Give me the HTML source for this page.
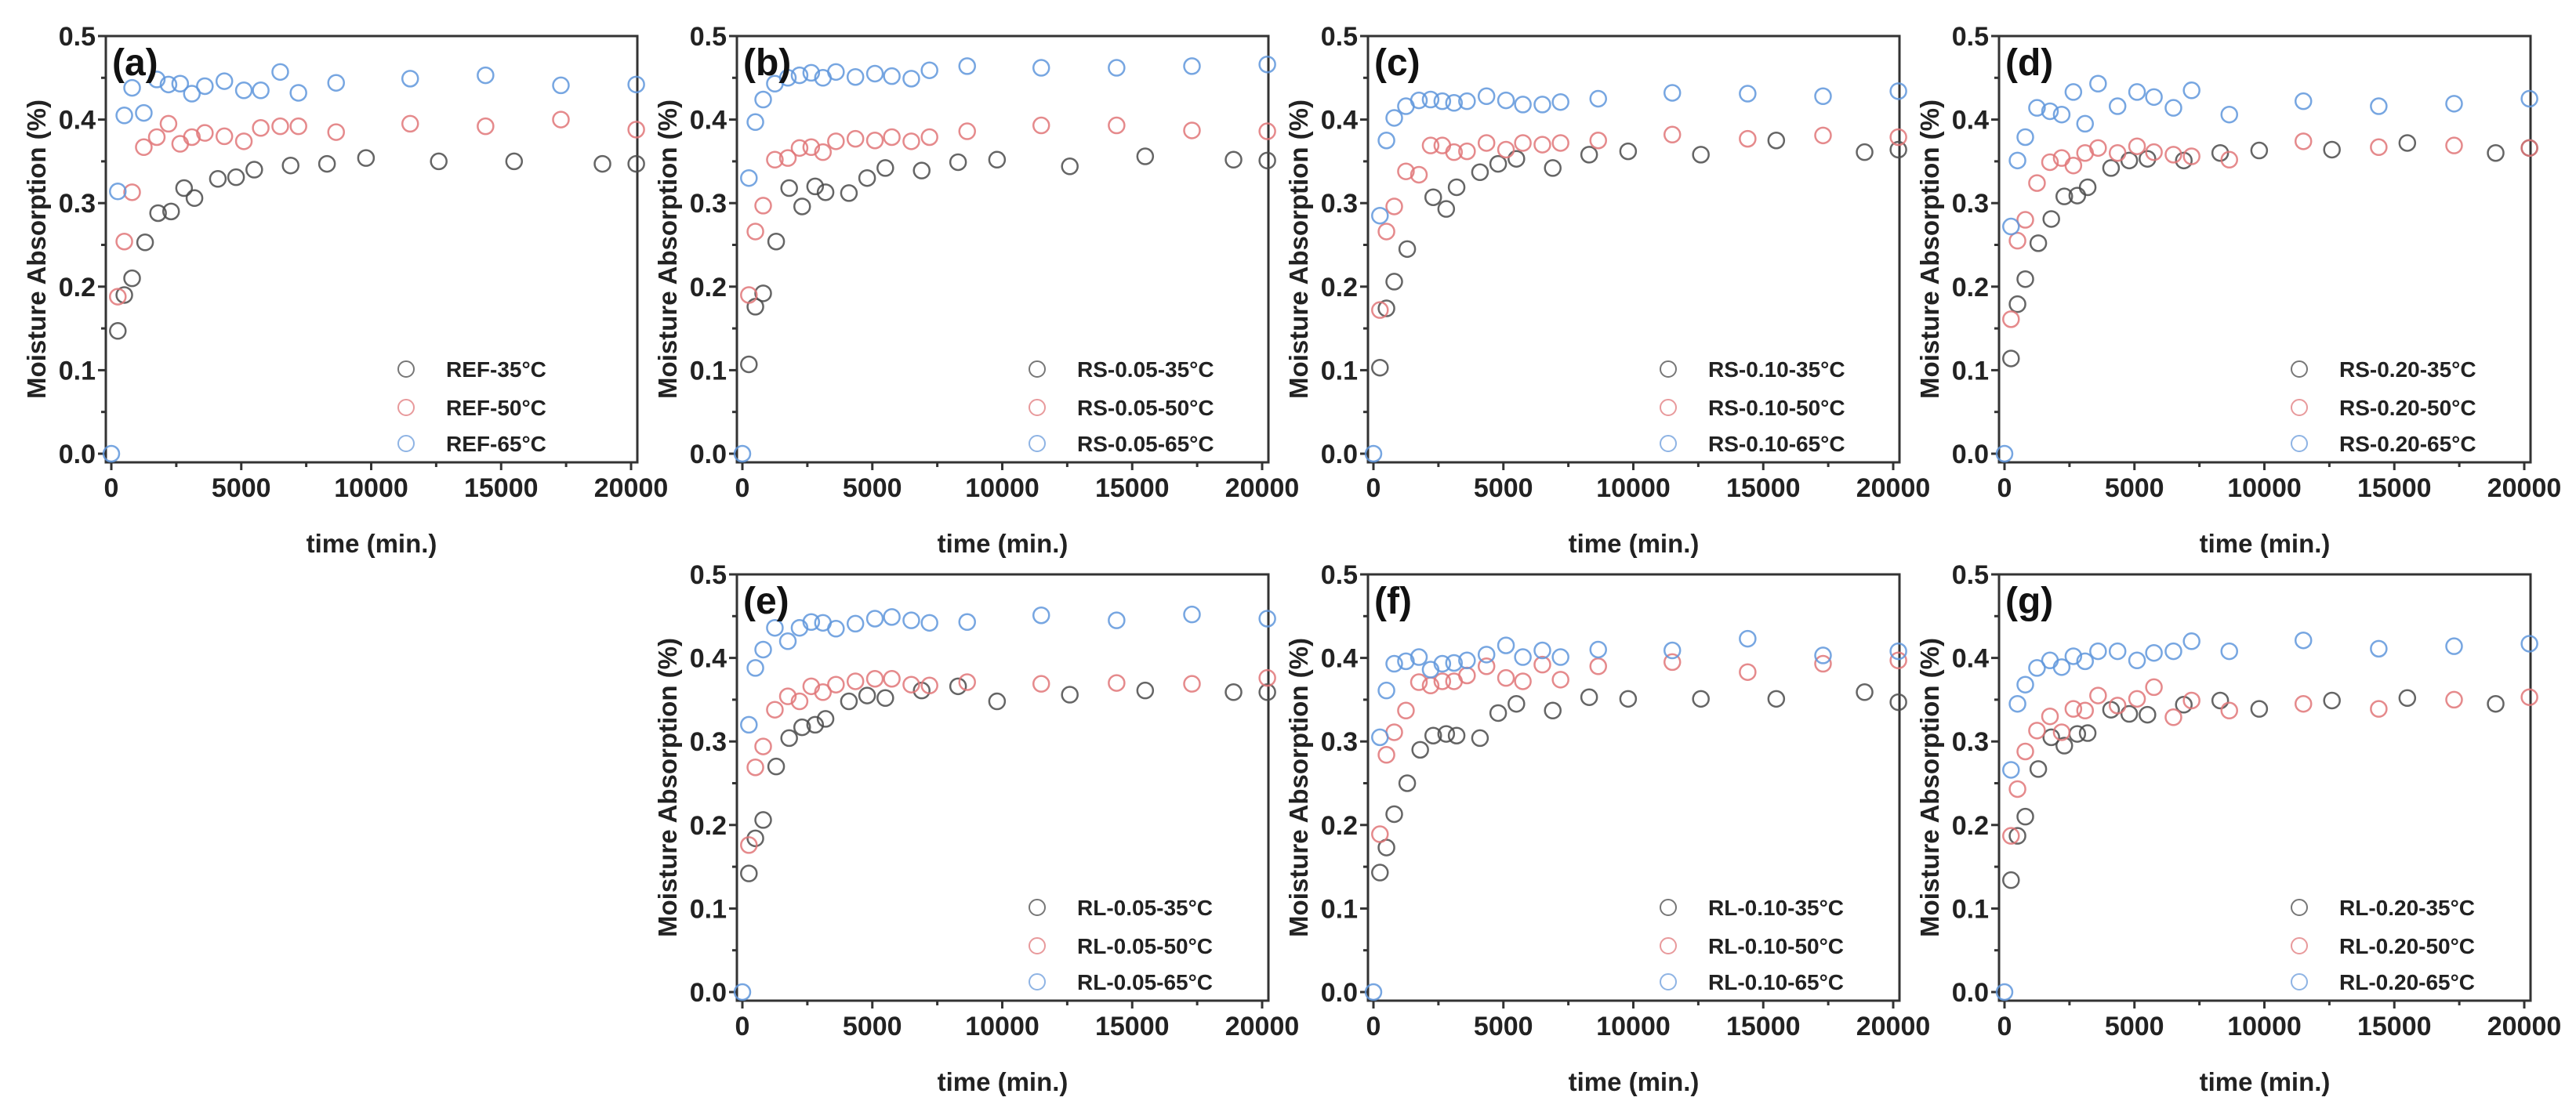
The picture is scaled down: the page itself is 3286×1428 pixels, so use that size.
<!DOCTYPE html>
<html><head><meta charset="utf-8"><style>
html,body{margin:0;padding:0;background:#fff;}
svg{display:block;font-family:"Liberation Sans",sans-serif;font-weight:bold;}
</style></head><body>
<svg id="fig" width="3286" height="1428" viewBox="0 0 3286 1428" xmlns="http://www.w3.org/2000/svg"></svg>
<script>
// Shared time grids (min.)
const t35 = [250,500,800,1300,1800,2300,2800,3200,4100,4800,5500,6900,8300,9800,12600,15500,18900,20200];
const t50 = [250,500,800,1250,1750,2200,2650,3100,3600,4350,5100,5750,6500,7200,8650,11500,14400,17300,20200];
const t65 = [0,250,500,800,1250,1750,2200,2650,3100,3600,4350,5100,5750,6500,7200,8650,11500,14400,17300,20200];
const xTicks = [0,5000,10000,15000,20000];
const yTicks = [0.0,0.1,0.2,0.3,0.4,0.5];
const yTickLabels = ["0.0","0.1","0.2","0.3","0.4","0.5"];
const panelLetters = ["(a)","(b)","(c)","(d)","(e)","(f)","(g)"];
const sampleNames = ["REF","RS-0.05","RS-0.10","RS-0.20","RL-0.05","RL-0.10","RL-0.20"];
const temps = ["35","50","65"];
// Series values per panel
const a35 = [0.147,0.19,0.21,0.253,0.288,0.29,0.318,0.306,0.329,0.331,0.34,0.345,0.347,0.354,0.35,0.35,0.347,0.347];
const a50 = [0.188,0.254,0.313,0.367,0.379,0.395,0.371,0.379,0.384,0.38,0.374,0.39,0.392,0.392,0.385,0.395,0.392,0.40,0.388];
const a65 = [0,0.314,0.405,0.438,0.408,0.448,0.442,0.443,0.431,0.44,0.446,0.435,0.435,0.457,0.432,0.444,0.449,0.453,0.441,0.442];
const b35 = [0.107,0.176,0.192,0.254,0.318,0.296,0.32,0.313,0.312,0.33,0.342,0.339,0.349,0.352,0.344,0.356,0.352,0.351];
const b50 = [0.19,0.266,0.297,0.352,0.354,0.366,0.367,0.361,0.374,0.377,0.375,0.379,0.374,0.379,0.386,0.393,0.393,0.387,0.386];
const b65 = [0,0.33,0.397,0.424,0.443,0.45,0.453,0.456,0.45,0.457,0.451,0.455,0.452,0.449,0.459,0.464,0.462,0.462,0.464,0.466];
const c35 = [0.103,0.174,0.206,0.245,null,0.307,0.293,0.319,0.337,0.347,0.353,0.342,0.358,0.362,0.358,0.375,0.361,0.364];
const c50 = [0.172,0.266,0.296,0.338,0.334,0.369,0.369,0.361,0.362,0.372,0.364,0.372,0.37,0.372,0.375,0.382,0.377,0.381,0.379];
const c65 = [0,0.285,0.375,0.402,0.416,0.423,0.424,0.422,0.42,0.422,0.428,0.423,0.418,0.418,0.421,0.425,0.432,0.431,0.428,0.434];
const d35 = [0.114,0.179,0.209,0.252,0.281,0.308,0.309,0.319,0.342,0.351,0.353,0.351,0.36,0.363,0.364,0.372,0.36,0.366];
const d50 = [0.161,0.255,0.28,0.324,0.349,0.354,0.345,0.36,0.366,0.36,0.368,0.361,0.358,0.356,0.352,0.374,0.367,0.369,0.366];
const d65 = [0,0.272,0.351,0.379,0.414,0.41,0.406,0.433,0.395,0.443,0.416,0.433,0.427,0.414,0.435,0.406,0.422,0.416,0.419,0.425];
const e35 = [0.142,0.184,0.206,0.27,0.304,0.317,0.32,0.327,0.348,0.355,0.352,0.361,0.366,0.348,0.356,0.361,0.359,0.359];
const e50 = [0.176,0.269,0.294,0.338,0.354,0.348,0.366,0.359,0.368,0.372,0.375,0.375,0.368,0.367,0.371,0.369,0.37,0.369,0.376];
const e65 = [0,0.32,0.388,0.41,0.436,0.42,0.436,0.443,0.442,0.435,0.441,0.447,0.449,0.445,0.442,0.443,0.451,0.445,0.452,0.447];
const f35 = [0.143,0.173,0.213,0.25,0.29,0.307,0.309,0.307,0.304,0.334,0.345,0.337,0.353,0.351,0.351,0.351,0.359,0.347];
const f50 = [0.189,0.284,0.311,0.337,0.371,0.367,0.372,0.372,0.379,0.39,0.376,0.372,0.392,0.374,0.39,0.395,0.383,0.393,0.397];
const f65 = [0,0.305,0.361,0.393,0.396,0.401,0.386,0.393,0.394,0.397,0.404,0.415,0.401,0.409,0.401,0.41,0.409,0.423,0.403,0.408];
const g35 = [0.134,0.187,0.21,0.267,0.305,0.295,0.309,0.31,0.338,0.333,0.332,0.344,0.349,0.339,0.349,0.352,0.345,null];
const g50 = [0.187,0.243,0.288,0.313,0.33,0.311,0.339,0.337,0.355,0.343,0.351,0.365,0.329,0.349,0.337,0.345,0.339,0.35,0.353];
const g65 = [0,0.266,0.345,0.368,0.388,0.397,0.389,0.402,0.396,0.408,0.408,0.397,0.406,0.408,0.42,0.408,0.421,0.411,0.414,0.417];

const panelSeries = [[a35,a50,a65],[b35,b50,b65],[c35,c50,c65],[d35,d50,d65],[e35,e50,e65],[f35,f50,f65],[g35,g50,g65]];
const seriesTimes = [t35,t50,t65];

const NS = "http://www.w3.org/2000/svg";
const svg = document.getElementById("fig");
const colors = ["#4a4a4a","#e07578","#5f97dc"];
const legendColors = ["#777","#e89a9c","#8fb4e4"];
const positions = [[0,0],[1,0],[2,0],[3,0],[1,1],[2,1],[3,1]];

function mk(tag, attrs, parent){
  const el = document.createElementNS(NS, tag);
  for (const k in attrs) el.setAttribute(k, attrs[k]);
  (parent||svg).appendChild(el);
  return el;
}

positions.forEach((pos, pi) => {
  const colIdx = pos[0], rowIdx = pos[1];
  const boxL = 135 + colIdx*805, boxR = boxL + 678;
  const x0 = boxL + 7, xW = 663;
  const y0 = 579 + rowIdx*687, yTop = y0 - 533, boxB = y0 + 11;
  const xs = t => x0 + t/20000*xW;
  const ys = v => y0 - v/0.5*533;

  const g = mk("g", {});
  
  

  const frame = mk("rect", {x:boxL, y:yTop, width:boxR-boxL, height:boxB-yTop, fill:"none", stroke:"#333", "stroke-width":3}, g);
  
  

  // y ticks
  for (let i=0;i<=10;i++){
    const v = i*0.05, y = ys(v), major = i%2===0;
    const tk = mk("line", {x1:boxL-(major?10:6), x2:boxL, y1:y, y2:y, stroke:"#333", "stroke-width":3}, g);
    
    
  }
  yTicks.forEach((v, i) => {
    const tx = mk("text", {x:boxL-13, y:ys(v)+12, "text-anchor":"end", "font-size":34, fill:"#222"}, g);
    tx.textContent = yTickLabels[i];
    
    
  });
  // x ticks
  for (let i=0;i<=8;i++){
    const t = i*2500, x = xs(t), major = i%2===0;
    const tk = mk("line", {x1:x, x2:x, y1:boxB, y2:boxB+(major?10:6), stroke:"#333", "stroke-width":3}, g);
    
    
  }
  xTicks.forEach(t => {
    const tx = mk("text", {x:xs(t), y:y0+55, "text-anchor":"middle", "font-size":34, fill:"#222"}, g);
    tx.textContent = String(t);
    
    
  });
  const xt = mk("text", {x:(boxL+boxR)/2, y:y0+126, "text-anchor":"middle", "font-size":33, fill:"#222"}, g);
  xt.textContent = "time (min.)";
  
  
  const cy = (yTop+boxB)/2;
  const yt = mk("text", {x:0, y:0, "text-anchor":"middle", "font-size":33, fill:"#222", transform:`translate(${boxL-77},${cy}) rotate(-90)`}, g);
  yt.textContent = "Moisture Absorption (%)";
  
  

  // data
  panelSeries[pi].forEach((vals, si) => {
    const times = seriesTimes[si];
    vals.forEach((v, k) => {
      if (v === null || v === undefined) return;
      const c = mk("circle", {cx:xs(times[k]), cy:ys(v), r:10, fill:"none", stroke:colors[si], "stroke-width":2.5, opacity:0.85}, g);
      
      
    });
  });

  const lbl = mk("text", {x:boxL+8, y:yTop+50, "font-size":48, fill:"#111"}, g);
  lbl.textContent = panelLetters[pi];
  
  

  // legend
  const lOffs = [-108,-59,-13];
  temps.forEach((tp, si) => {
    const ly = y0 + lOffs[si];
    const lc = mk("circle", {cx:boxL+383, cy:ly, r:10, fill:"none", stroke:legendColors[si], "stroke-width":2}, g);
    
    
    const lt = mk("text", {x:boxL+434, y:ly+10, "font-size":28, fill:"#222"}, g);
    lt.textContent = sampleNames[pi] + "-" + tp + "\u00B0C";
    
    
  });
});
</script>
</body></html>
